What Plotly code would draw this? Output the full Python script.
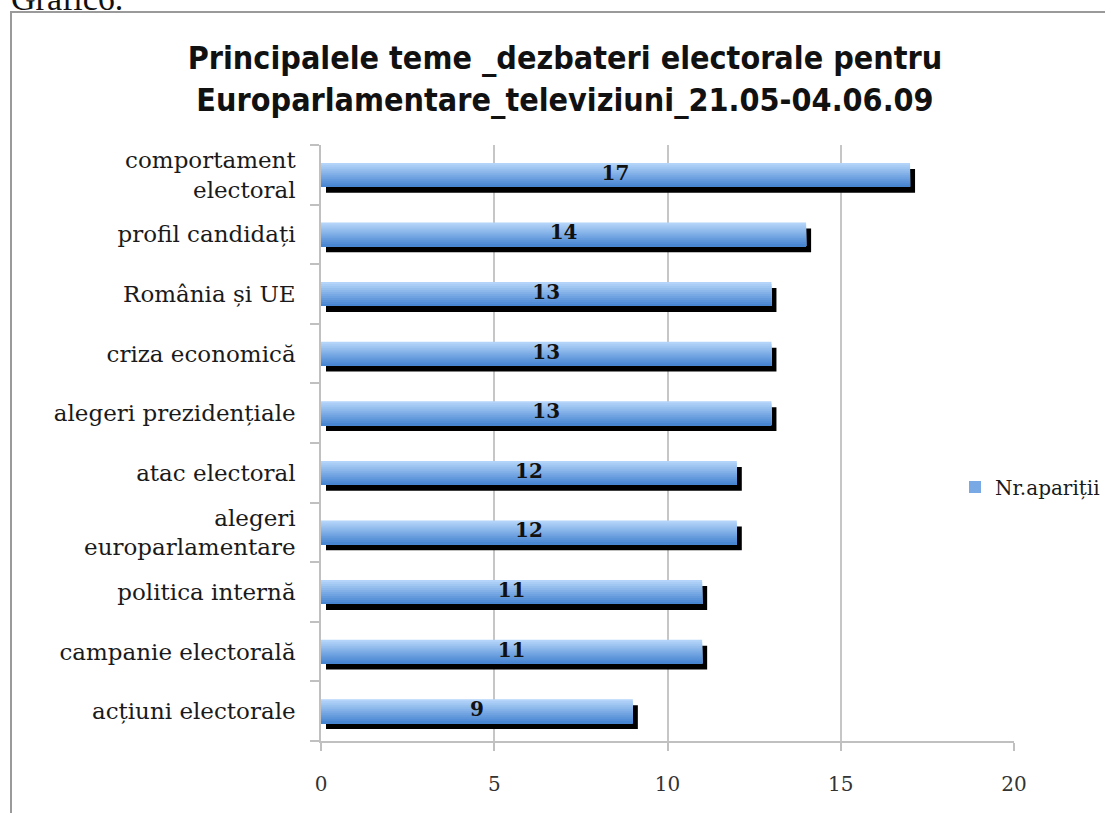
import plotly.graph_objects as go

# ---- data (bottom-to-top order) ----
categories = [
    "acțiuni electorale",
    "campanie electorală",
    "politica internă",
    "alegeri<br>europarlamentare",
    "atac electoral",
    "alegeri prezidențiale",
    "criza economică",
    "România și UE",
    "profil candidați",
    "comportament<br>electoral",
]
values = [9, 11, 11, 12, 12, 13, 13, 13, 14, 17]
series_name = "Nr.apariții"
x_ticks = [0, 5, 10, 15, 20]
title_text = ("Principalele teme _dezbateri electorale pentru<br>"
              "Europarlamentare_televiziuni_21.05-04.06.09")

# ---- layout geometry (pixels) ----
W, H = 1105, 813
L, R, T, B = 321, 91, 145, 72
PW, PH = W - L - R, H - T - B

def px2x(px):
    return (px - L) / PW

def py2y(py):
    return (H - B - py) / PH

SERIF = "DejaVu Serif, Liberation Serif, serif"
TITLE_FONT = "Liberation Sans Narrow, DejaVu Sans Condensed, Arial Narrow, sans-serif"

fig = go.Figure()

bar_w = 0.4
unit_px = PW / 20.0
band_px = PH / len(categories)
shadow_dx = 5 / unit_px
shadow_dy = 6 / band_px

# shadow
fig.add_trace(go.Bar(
    y=categories, x=values, base=shadow_dx, orientation="h",
    width=bar_w, offset=-bar_w / 2 - shadow_dy,
    marker=dict(color="#000000", line=dict(width=0)),
    showlegend=False, hoverinfo="skip",
))

# gradient of the blue bar (top light -> bottom darker), drawn as nested layers
top_rgb = (180, 212, 249)
bot_rgb = (72, 134, 210)
N = 12
sw = bar_w / N
for i in range(N):
    t = i / (N - 1)
    c = tuple(round(top_rgb[k] + (bot_rgb[k] - top_rgb[k]) * t) for k in range(3))
    col = "rgb(%d,%d,%d)" % c
    fig.add_trace(go.Bar(
        y=categories, x=values, orientation="h",
        width=bar_w - i * sw, offset=-bar_w / 2,
        marker=dict(color=col, line=dict(width=0)),
        name=series_name, showlegend=(i == N // 2),
        hoverinfo="skip",
    ))

# value labels
fig.add_trace(go.Scatter(
    y=categories, x=[v / 2 for v in values], mode="text",
    text=[str(v) for v in values], textposition="middle center",
    textfont=dict(family=SERIF, size=20, color="#111111", weight="bold"),
    showlegend=False, hoverinfo="skip",
))

fig.update_layout(
    width=W, height=H,
    margin=dict(l=L, r=R, t=T, b=B, autoexpand=False),
    paper_bgcolor="white", plot_bgcolor="white",
    barmode="overlay",
    title=dict(text=title_text, x=565 / W, xanchor="center", xref="container",
               y=1 - 69 / H, yanchor="top", yref="container",
               font=dict(family=TITLE_FONT, size=32, color="#111111", weight="bold")),
    xaxis=dict(range=[0, 20], tickvals=x_ticks, showgrid=True,
               gridcolor="#c6c6c6", gridwidth=1.5, zeroline=False,
               showline=True, linecolor="#c0c0c0", linewidth=1.5,
               ticks="outside", ticklen=8, tickcolor="#c0c0c0", tickwidth=1.5,
               tickfont=dict(family=SERIF, size=20, color="#333333"),
               ticklabelstandoff=16, fixedrange=True),
    yaxis=dict(type="category", categoryorder="array", categoryarray=categories,
               range=[-0.5, len(categories) - 0.5], showgrid=False,
               zeroline=False, showline=True, linecolor="#c0c0c0", linewidth=1.5,
               ticks="outside", tickson="boundaries", ticklen=9,
               tickcolor="#c0c0c0", tickwidth=1.5,
               tickfont=dict(family=SERIF, size=23, color="#1a1a1a"),
               ticklabelstandoff=19, fixedrange=True),
    legend=dict(x=px2x(955), y=py2y(487), xanchor="left", yanchor="middle",
                bgcolor="white", borderwidth=0,
                font=dict(family=SERIF, size=20, color="#1a1a1a")),
    shapes=[
        dict(type="path", xref="paper", yref="paper",
             path="M %f %f L %f %f L %f %f" % (px2x(11), py2y(H + 10), px2x(11), py2y(12),
                                               px2x(W + 10), py2y(12)),
             line=dict(color="#9a9a9a", width=2), layer="above"),
    ],
    annotations=[
        dict(text="Grafic6.", xref="paper", yref="paper", x=px2x(9), y=py2y(19),
             xanchor="left", yanchor="bottom", showarrow=False,
             font=dict(family="Liberation Serif, serif", size=34, color="#111111")),
    ],
)

fig.write_html("out.html",
               config={"displayModeBar": False},
               post_script="document.body.style.margin='0px';document.body.style.overflow='hidden';")
